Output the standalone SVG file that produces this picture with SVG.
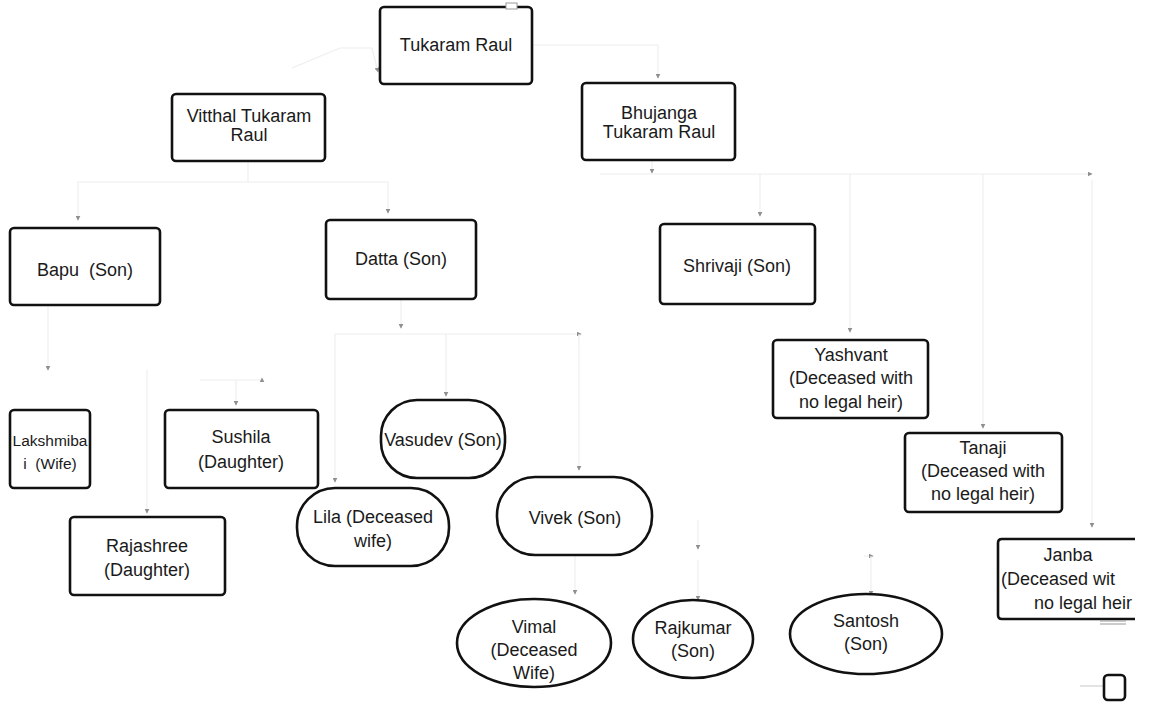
<svg xmlns="http://www.w3.org/2000/svg" width="1163" height="705" viewBox="0 0 1163 705">
<style>
.box{fill:#fff;stroke:#111;stroke-width:2.6}
.t{font-family:"Liberation Sans",Arial,sans-serif;font-size:18px;fill:#1a1a1a;text-anchor:middle}
.ts{font-size:15.5px}
.c{fill:none;stroke:#eeeeee;stroke-width:1.2}
.ah{fill:#8f8f8f}
</style>
<defs>
<marker id="arr" viewBox="0 0 8 8" refX="7" refY="4" markerWidth="5" markerHeight="5" orient="auto" markerUnits="userSpaceOnUse">
<path d="M0,0 L8,4 L0,8 Z" class="ah"/>
</marker>
</defs>
<rect width="1163" height="705" fill="#fff"/>

<g id="connectors">
<path class="c" d="M 292 68 L 340 48 H 372 L 378 72" marker-end="url(#arr)"/>
<path class="c" d="M 532 45 H 658 V 78" marker-end="url(#arr)"/>
<path class="c" d="M 652 160 V 173" marker-end="url(#arr)"/>
<path class="c" d="M 600 174 H 1092" marker-end="url(#arr)"/>
<path class="c" d="M 760 174 V 216" marker-end="url(#arr)"/>
<path class="c" d="M 850 174 V 332" marker-end="url(#arr)"/>
<path class="c" d="M 983 174 V 428" marker-end="url(#arr)"/>
<path class="c" d="M 1092 180 V 527" marker-end="url(#arr)"/>
<path class="c" d="M 248 161 V 182 H 78 V 220" marker-end="url(#arr)"/>
<path class="c" d="M 248 182 H 388 V 213" marker-end="url(#arr)"/>
<path class="c" d="M 401 299 V 328" marker-end="url(#arr)"/>
<path class="c" d="M 335 334 H 581" marker-end="url(#arr)"/>
<path class="c" d="M 335 334 V 482" marker-end="url(#arr)"/>
<path class="c" d="M 446 334 V 396" marker-end="url(#arr)"/>
<path class="c" d="M 579 334 V 470" marker-end="url(#arr)"/>
<path class="c" d="M 48 305 V 370" marker-end="url(#arr)"/>
<path class="c" d="M 147 370 V 513" marker-end="url(#arr)"/>
<path class="c" d="M 200 380 H 262 V 378" marker-end="url(#arr)"/>
<path class="c" d="M 236 380 V 405" marker-end="url(#arr)"/>
<path class="c" d="M 575 555 V 594" marker-end="url(#arr)"/>
<path class="c" d="M 698 520 V 549" marker-end="url(#arr)"/>
<path class="c" d="M 698 560 V 600" marker-end="url(#arr)"/>
<path class="c" d="M 864 556 H 873" marker-end="url(#arr)"/>
<path class="c" d="M 871 556 V 595" marker-end="url(#arr)"/>
<path d="M 1080 686 H 1103" fill="none" stroke="#d0d0d0" stroke-width="1.2"/>
</g>

<g id="n-tukaram">
<rect class="box" x="380" y="7" width="152" height="77" rx="4"/>
<rect x="506" y="3" width="11" height="6" fill="#fff" stroke="#999" stroke-width="1"/>
<text class="t" x="456" y="51">Tukaram Raul</text>
</g>
<g id="n-vitthal">
<rect class="box" x="172" y="94" width="153" height="67" rx="4"/>
<text class="t" x="249" y="122">Vitthal Tukaram</text>
<text class="t" x="249" y="141">Raul</text>
</g>
<g id="n-bhujanga">
<rect class="box" x="582" y="83" width="153" height="77" rx="4"/>
<text class="t" x="659" y="119">Bhujanga</text>
<text class="t" x="659" y="138">Tukaram Raul</text>
</g>
<g id="n-bapu">
<rect class="box" x="10" y="228" width="150" height="77" rx="4"/>
<text class="t" x="85" y="276" xml:space="preserve">Bapu  (Son)</text>
</g>
<g id="n-datta">
<rect class="box" x="326" y="220" width="150" height="79" rx="4"/>
<text class="t" x="401" y="265">Datta (Son)</text>
</g>
<g id="n-shrivaji">
<rect class="box" x="660" y="224" width="155" height="80" rx="4"/>
<text class="t" x="737" y="272">Shrivaji (Son)</text>
</g>
<g id="n-yashvant">
<rect class="box" x="773" y="340" width="155" height="78" rx="4"/>
<text class="t" x="851" y="361">Yashvant</text>
<text class="t" x="851" y="384">(Deceased with</text>
<text class="t" x="851" y="408">no legal heir)</text>
</g>
<g id="n-tanaji">
<rect class="box" x="905" y="433" width="157" height="79" rx="4"/>
<text class="t" x="983" y="454">Tanaji</text>
<text class="t" x="983" y="477">(Deceased with</text>
<text class="t" x="983" y="500">no legal heir)</text>
</g>
<g id="n-janba">
<path class="box" d="M 1135 539 H 1002 Q 998 539 998 543 V 615 Q 998 619 1002 619 H 1135"/>
<path d="M 1100 621 H 1126 M 1100 624 H 1126" stroke="#999" stroke-width="1" fill="none"/>
<text class="t" x="1068" y="561">Janba</text>
<text class="t" x="1001" y="585" style="text-anchor:start">(Deceased wit</text>
<text class="t" x="1132" y="609" style="text-anchor:end">no legal heir</text>
</g>
<g id="n-lakshmibai">
<rect class="box" x="10" y="410" width="80" height="78" rx="4"/>
<text class="t ts" x="50" y="446">Lakshmiba</text>
<text class="t ts" x="50" y="469" xml:space="preserve">i  (Wife)</text>
</g>
<g id="n-sushila">
<rect class="box" x="165" y="410" width="153" height="78" rx="4"/>
<text class="t" x="241" y="443">Sushila</text>
<text class="t" x="241" y="468">(Daughter)</text>
</g>
<g id="n-rajashree">
<rect class="box" x="70" y="517" width="155" height="78" rx="4"/>
<text class="t" x="147" y="552">Rajashree</text>
<text class="t" x="147" y="576">(Daughter)</text>
</g>
<g id="n-vasudev">
<rect class="box" x="381" y="400" width="124" height="78" rx="36"/>
<text class="t" x="443" y="446">Vasudev (Son)</text>
</g>
<g id="n-lila">
<rect class="box" x="297" y="488" width="152" height="78" rx="38"/>
<text class="t" x="373" y="523">Lila (Deceased</text>
<text class="t" x="373" y="547">wife)</text>
</g>
<g id="n-vivek">
<rect class="box" x="497" y="477" width="155" height="78" rx="38"/>
<text class="t" x="575" y="524">Vivek (Son)</text>
</g>
<g id="n-vimal">
<ellipse class="box" cx="534" cy="643" rx="77" ry="44"/>
<text class="t" x="534" y="633">Vimal</text>
<text class="t" x="534" y="656">(Deceased</text>
<text class="t" x="534" y="679">Wife)</text>
</g>
<g id="n-rajkumar">
<ellipse class="box" cx="693" cy="639" rx="60" ry="39"/>
<text class="t" x="693" y="634">Rajkumar</text>
<text class="t" x="693" y="657">(Son)</text>
</g>
<g id="n-santosh">
<ellipse class="box" cx="866" cy="634" rx="76" ry="40"/>
<text class="t" x="866" y="627">Santosh</text>
<text class="t" x="866" y="650">(Son)</text>
</g>
<g id="n-small">
<rect class="box" x="1104" y="675" width="21" height="25" rx="4"/>
</g>
</svg>
